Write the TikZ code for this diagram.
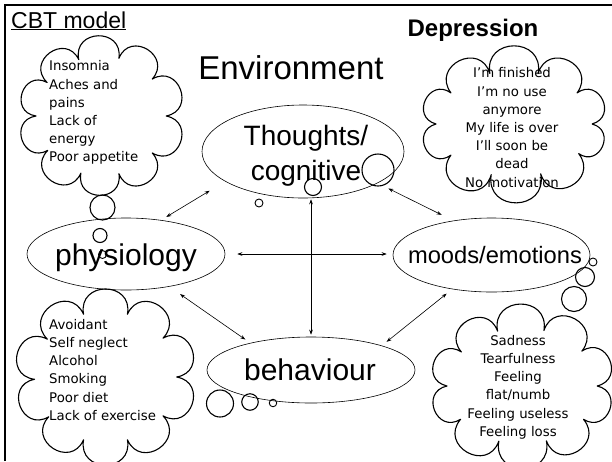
\documentclass[tikz,border=0pt]{standalone}
\usepackage{fontspec}
\setmainfont{Liberation Sans}
\newfontfamily\cloudfont{DejaVu Sans}
\usetikzlibrary{shapes.geometric,arrows.meta}
\tikzset{
  ellip/.style={ellipse, draw, line width=0.6pt, inner sep=0pt},
  bubble/.style={circle, draw, line width=1.1pt, inner sep=0pt},
  cloudline/.style={line width=1.1pt, line join=round},
  puff/.style={bend left=100, looseness=2},
  cloudtext/.style={font=\cloudfont\fontsize{13.3}{18.2}\selectfont, inner sep=0pt},
  bigtext/.style={font=\fontsize{30}{35}\selectfont, inner sep=0pt, anchor=base},
  conn/.style={{Stealth[length=5pt,width=3.6pt]}-{Stealth[length=5pt,width=3.6pt]}, line width=0.6pt}
}
\newcommand\mycloud[5]{%
  \begin{scope}[shift={(#1,#2)}]
    \draw[cloudline] (0:#3 and #4) foreach \a in {#5} { to[puff] (\a:#3 and #4) };
  \end{scope}}
\begin{document}
\begin{tikzpicture}[x=1pt,y=-1pt]
\useasboundingbox (0,0) rectangle (612,461);
% frame
\draw[line width=2pt] (5,461) -- (5,5) -- (612,5);
% titles
\node[font=\fontsize{23}{26}\selectfont, anchor=base west, inner sep=0pt] (cbt) at (11,28) {\underline{CBT model}};
\node[font=\bfseries\fontsize{24}{28}\selectfont, anchor=base, inner sep=0pt] (dep) at (473,36.5) {Depression};
\node[font=\fontsize{33}{38}\selectfont, anchor=base, inner sep=0pt] (env) at (291,79) {Environment};
% ellipses
\node[ellip, minimum width=202pt, minimum height=93pt] (thoughts) at (303,151.5) {};
\node[ellip, minimum width=198pt, minimum height=72pt] (physio) at (126,254) {};
\node[ellip, minimum width=197pt, minimum height=74pt] (moods) at (491.5,255) {};
\node[ellip, minimum width=208pt, minimum height=66pt] (behav) at (311,370) {};
% ellipse texts
\node[bigtext, font=\fontsize{28}{35}\selectfont] (t1) at (306,145) {Thoughts/};
\node[bigtext, font=\fontsize{28}{35}\selectfont] (t2) at (306,180) {cognitive};
\node[bigtext] (tp) at (126,265) {physiology};
\node[bigtext, font=\fontsize{23.7}{28}\selectfont] (tm) at (495,263) {moods/emotions};
\node[bigtext] (tb) at (310,380) {behaviour};
% clouds
\mycloud{101}{116}{65}{60}{38,74,108,145,180,214,250,286,322,360}
\mycloud{514}{124}{78}{53}{34,70,107,144,180,216,252,288,324,360}
\mycloud{105.5}{377}{71}{66}{36,72,108,143,178,215,252,288,324,360}
\mycloud{522}{386}{75}{58}{35,71,108,145,180,216,251,287,323,360}
% cloud texts
\node[cloudtext, align=left, anchor=north west] (ct1) at (49,60.5) {Insomnia\\Aches and\\pains\\Lack of\\energy\\Poor appetite};
\node[cloudtext, align=center, anchor=north] (ct2) at (512,67.5) {I’m finished\\I’m no use\\anymore\\My life is over\\I’ll soon be\\dead\\No motivation};
\node[cloudtext, align=left, anchor=north west] (ct3) at (49,319) {Avoidant\\Self neglect\\Alcohol\\Smoking\\Poor diet\\Lack of exercise};
\node[cloudtext, align=center, anchor=north] (ct4) at (518,335) {Sadness\\Tearfulness\\Feeling\\flat/numb\\Feeling useless\\Feeling loss};
% bubbles
\node[bubble, minimum size=32pt] (b1) at (378,170) {};
\node[bubble, minimum size=17pt] (b2) at (313,187) {};
\node[bubble, minimum size=8pt, line width=0.9pt] (b3) at (259,203) {};
\node[bubble, minimum size=25pt] (b4) at (102.5,207.5) {};
\node[bubble, minimum size=14pt] (b5) at (100,235.5) {};
\node[bubble, minimum size=8pt, line width=0.9pt] (b6) at (102.5,254.5) {};
\node[bubble, minimum size=8pt, line width=0.9pt] (b7) at (593,262) {};
\node[bubble, minimum size=19pt] (b8) at (585,277) {};
\node[bubble, minimum size=25pt] (b9) at (574,299) {};
\node[bubble, minimum size=27pt] (b10) at (220,403.5) {};
\node[bubble, minimum size=16.5pt] (b11) at (250,402) {};
\node[bubble, minimum size=7.5pt, line width=0.9pt] (b12) at (273,403) {};
% connectors
\draw[conn, shorten <=18pt, shorten >=6pt] (thoughts.201) -- (physio.44);
\draw[conn, shorten <=1pt, shorten >=2pt] (behav.north |- thoughts.south) -- (behav.north);
\draw[conn, shorten <=12pt, shorten >=6pt] (physio.east) -- (physio.east -| moods.west);
\draw[conn, shorten <=13pt, shorten >=6pt] (physio.-37) -- (behav.156);
\draw[conn, shorten <=12pt, shorten >=13pt] (thoughts.-23) -- (moods.138);
\draw[conn, shorten <=7pt, shorten >=6pt] (moods.221) -- (behav.19);
\end{tikzpicture}
\end{document}
